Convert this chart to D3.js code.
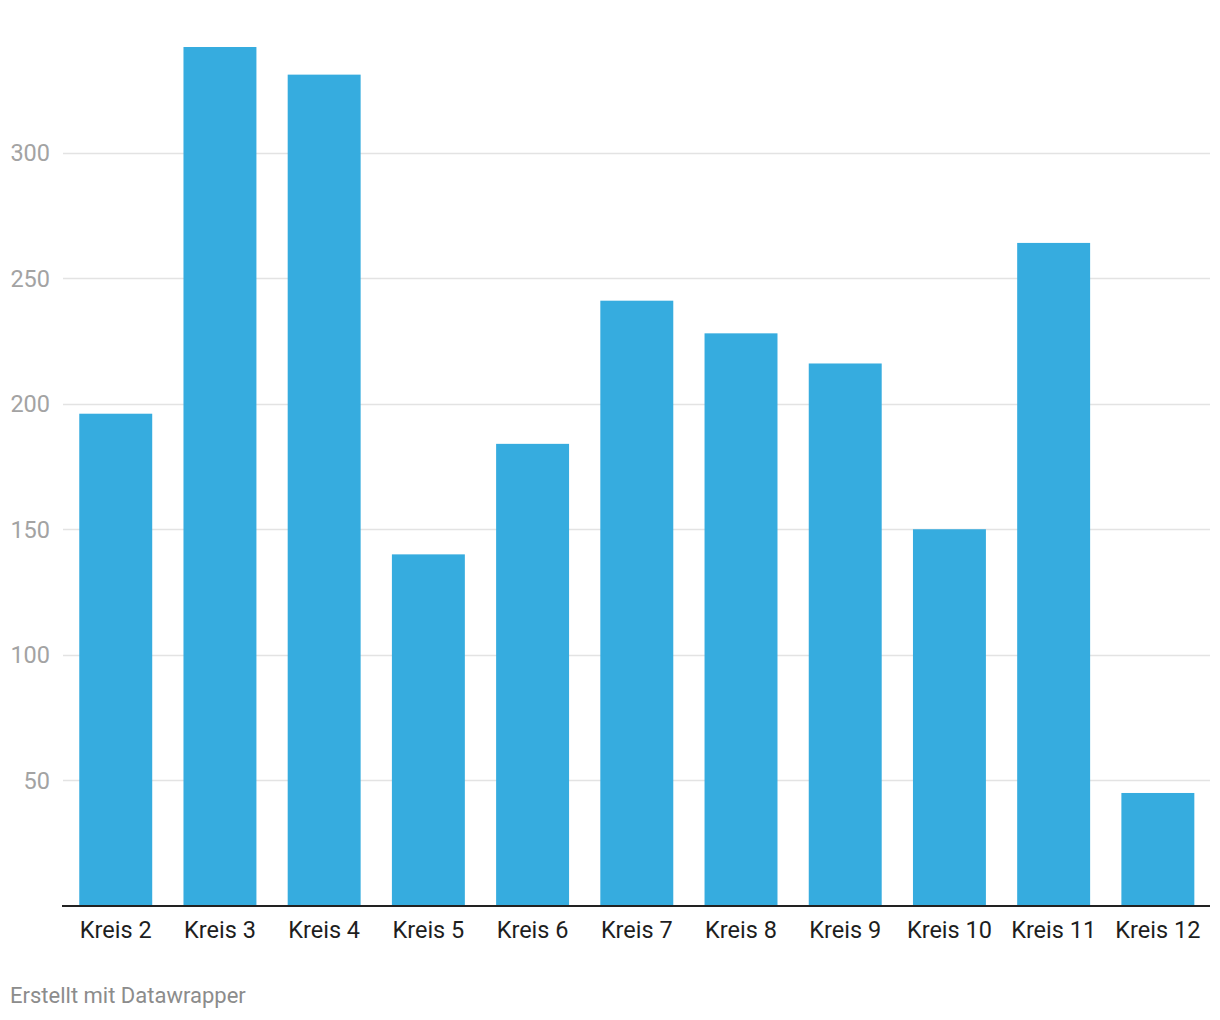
<!DOCTYPE html>
<html>
<head>
<meta charset="utf-8">
<script src="https://cdn.jsdelivr.net/npm/d3@7"></script>
<style>
  html, body { margin: 0; padding: 0; background: #fff; }
  svg { display: block; font-family: Roboto, "Noto Sans", sans-serif; }
</style>
</head>
<body>
<svg id="chart" width="1220" height="1020"></svg>
<script>
const categories = ["Kreis 2", "Kreis 3", "Kreis 4", "Kreis 5", "Kreis 6", "Kreis 7", "Kreis 8", "Kreis 9", "Kreis 10", "Kreis 11", "Kreis 12"];
const values = [196, 342, 331, 140, 184, 241, 228, 216, 150, 264, 45];
const yTicks = [50, 100, 150, 200, 250, 300];
const footer = "Erstellt mit Datawrapper";

const svg = d3.select("#chart");
const left = 62, right = 1210, baseY = 906;

const x = d3.scaleBand().domain(categories).range([left + 0.8, right + 0.8]).paddingInner(0.3).paddingOuter(0.158);
const y = d3.scaleLinear().domain([0, 300]).range([baseY, 152.5]);

// gridlines
const grid = svg.append("g");
grid.selectAll("line").data(yTicks).join("line")
  .attr("x1", left + 1).attr("x2", right)
  .attr("y1", d => Math.round(y(d)) + 0.5).attr("y2", d => Math.round(y(d)) + 0.5)
  .attr("stroke", "#e3e3e3").attr("stroke-width", 1.5);

// y tick labels
svg.append("g").selectAll("text").data(yTicks).join("text")
  .attr("x", 50).attr("y", d => y(d) + 8.5)
  .attr("text-anchor", "end")
  .attr("fill", "#a3a3a3").attr("font-size", 23.5)
  .text(d => d);

// bars
svg.append("g").selectAll("rect").data(values).join("rect")
  .attr("x", (d, i) => x(categories[i]))
  .attr("width", x.bandwidth())
  .attr("y", d => y(d))
  .attr("height", d => baseY - y(d))
  .attr("fill", "#36acdf");

// x axis
const xAxis = d3.axisBottom(x).tickSize(0).tickPadding(0);
const gx = svg.append("g").attr("transform", `translate(0,${baseY})`).call(xAxis);
gx.select(".domain").attr("stroke", "#222").attr("stroke-width", 2).attr("d", `M${left},0H${right}`);
gx.selectAll("text").attr("font-size", 23.5).attr("fill", "#1e1e1e").attr("font-family", "Roboto, sans-serif")
  .attr("y", 32).attr("dy", null);

// footer
svg.append("text").attr("x", 10).attr("y", 1003)
  .attr("fill", "#8c8c8c").attr("font-size", 22).text(footer);
</script>
</body>
</html>
